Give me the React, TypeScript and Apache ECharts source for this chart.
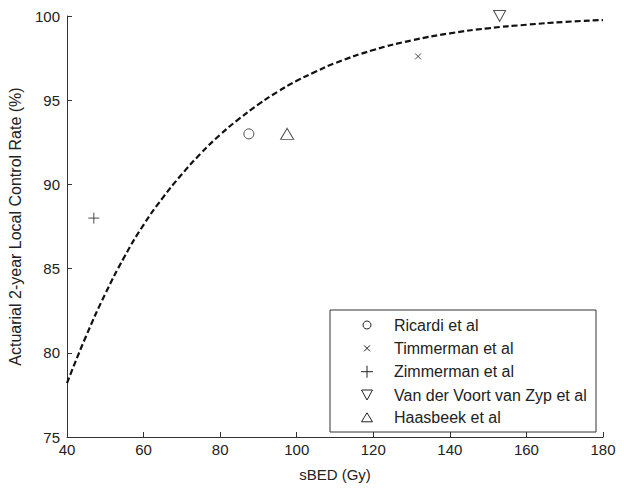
import React, { useEffect, useRef } from "react";
import * as echarts from "echarts";

const curveX = [40, 45, 50, 55, 60, 65, 70, 75, 80, 85, 90, 95, 100, 105, 110, 120, 130, 140, 150, 160, 170, 180];
const curveY = [78.2, 81.0, 83.5, 85.7, 87.6, 89.2, 90.6, 91.85, 92.95, 93.9, 94.75, 95.5, 96.15, 96.7, 97.2, 97.98, 98.55, 98.97, 99.27, 99.48, 99.65, 99.76];

const studies = ["Ricardi et al", "Timmerman et al", "Zimmerman et al", "Van der Voort van Zyp et al", "Haasbeek et al"];
const studyX = [87.5, 131.7, 47, 153, 97.5];
const studyY = [93, 97.6, 88, 100, 93];

const xTicks = [40, 60, 80, 100, 120, 140, 160, 180];
const yTicks = [75, 80, 85, 90, 95, 100];

const FONT = "'Liberation Sans', Arial, sans-serif";
const INK = "#222";

const symbols: Array<{ symbol: string; size: number | number[] }> = [
  { symbol: "circle", size: 10 },
  { symbol: "path://M0,0L10,10M10,0L0,10", size: 6 },
  { symbol: "path://M5,0L5,10M0,5L10,5", size: 11 },
  { symbol: "path://M0,0L12,0L6,11Z", size: [12, 11] },
  { symbol: "triangle", size: [13, 11] },
];

export default function App() {
  const ref = useRef<HTMLDivElement>(null);
  useEffect(() => {
    document.body.style.margin = "0";
    const chart = echarts.init(ref.current!, undefined, { renderer: "svg" });

    const legLeft = 330, legTop = 310, legW = 266, legH = 122;
    const rowY = [325, 348.3, 371.7, 395, 417.3];
    const cx = 367;
    const st = { stroke: INK, lineWidth: 1, fill: "none" };
    const legendGraphics: any[] = [
      { type: "rect", shape: { x: legLeft, y: legTop, width: legW, height: legH }, style: { stroke: "#333", lineWidth: 1, fill: "#fff" }, z: 10 },
      { type: "circle", shape: { cx, cy: rowY[0], r: 4 }, style: st, z: 11 },
      { type: "line", shape: { x1: cx - 3, y1: rowY[1] - 3, x2: cx + 3, y2: rowY[1] + 3 }, style: st, z: 11 },
      { type: "line", shape: { x1: cx + 3, y1: rowY[1] - 3, x2: cx - 3, y2: rowY[1] + 3 }, style: st, z: 11 },
      { type: "line", shape: { x1: cx - 6, y1: rowY[2], x2: cx + 6, y2: rowY[2] }, style: st, z: 11 },
      { type: "line", shape: { x1: cx, y1: rowY[2] - 6, x2: cx, y2: rowY[2] + 6 }, style: st, z: 11 },
      { type: "polygon", shape: { points: [[cx - 5.5, rowY[3] - 5], [cx + 5.5, rowY[3] - 5], [cx, rowY[3] + 5]] }, style: st, z: 11 },
      { type: "polygon", shape: { points: [[cx - 5.5, rowY[4] + 4.5], [cx + 5.5, rowY[4] + 4.5], [cx, rowY[4] - 4.5]] }, style: st, z: 11 },
    ];
    studies.forEach((name, i) => {
      legendGraphics.push({
        type: "text",
        x: 394,
        y: rowY[i],
        style: { text: name, fontSize: 16, fontFamily: FONT, fill: INK, verticalAlign: "middle", align: "left" },
        z: 11,
      });
    });

    chart.setOption({
      animation: false,
      backgroundColor: "#fff",
      grid: { left: 67, right: 21, top: 16, bottom: 55, containLabel: false, outerBoundsMode: "none" },
      xAxis: {
        type: "value",
        min: 40,
        max: 180,
        interval: 20,
        name: "sBED (Gy)",
        nameLocation: "middle",
        nameGap: 30,
        nameTextStyle: { fontSize: 15, fontFamily: FONT, color: INK },
        axisLine: { show: true, lineStyle: { color: "#333", width: 1 } },
        axisTick: { show: true, inside: true, length: 5, lineStyle: { color: "#333" } },
        axisLabel: { fontSize: 15, fontFamily: FONT, color: INK, margin: 5, formatter: (v: number) => (xTicks.includes(v) ? String(v) : "") },
        splitLine: { show: false },
      },
      yAxis: {
        type: "value",
        min: 75,
        max: 100,
        interval: 5,
        name: "Actuarial 2-year Local Control Rate (%)",
        nameLocation: "middle",
        nameGap: 44,
        nameTextStyle: { fontSize: 16, fontFamily: FONT, color: INK },
        axisLine: { show: true, lineStyle: { color: "#333", width: 1 } },
        axisTick: { show: true, inside: true, length: 5, lineStyle: { color: "#333" } },
        axisLabel: { fontSize: 15, fontFamily: FONT, color: INK, margin: 7, formatter: (v: number) => (yTicks.includes(v) ? String(v) : "") },
        splitLine: { show: false },
      },
      series: [
        {
          type: "line",
          name: "Model",
          data: curveX.map((x, i) => [x, curveY[i]]),
          smooth: true,
          symbol: "none",
          lineStyle: { color: "#111", width: 2.2, type: [6, 3] },
          z: 2,
        },
        ...studies.map((name, i) => ({
          type: "scatter",
          name,
          data: [[studyX[i], studyY[i]]],
          symbol: symbols[i].symbol,
          symbolSize: symbols[i].size,
          itemStyle: { color: "none", borderColor: INK, borderWidth: 1 },
          z: 3,
        })),
      ],
      graphic: legendGraphics,
    });
    return () => chart.dispose();
  }, []);
  return <div ref={ref} style={{ width: 624, height: 492, position: "fixed", left: 0, top: 0 }} />;
}
